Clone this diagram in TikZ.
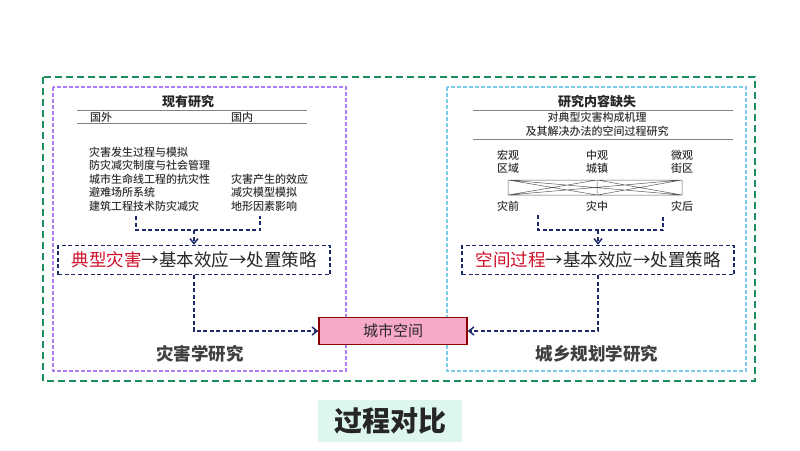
\documentclass[tikz,border=0pt]{standalone}
\usepackage{fontspec}
\setmainfont{Noto Sans CJK SC}
\newfontfamily\mfont{Noto Sans CJK SC Medium}
\usetikzlibrary{arrows.meta}
\definecolor{navy}{HTML}{1F2A6B}
\definecolor{grn}{HTML}{1E8F5A}
\definecolor{purp}{HTML}{B07CF5}
\definecolor{lblue}{HTML}{7CCBEE}
\definecolor{hred}{HTML}{D0102A}
\definecolor{pinkf}{HTML}{F8A8C8}
\definecolor{tbg}{HTML}{DDF7F0}
\begin{document}
\begin{tikzpicture}[x=1pt,y=-1pt,
  conn/.style={navy,line width=1.5pt,dash pattern=on 4pt off 2.5pt},
  arr/.style={conn,-{Straight Barb[length=5pt,width=8pt,line width=1.5pt]}},
  flow/.style={draw=navy,line width=1.5pt,dash pattern=on 4pt off 2.5pt,minimum width=272pt,minimum height=29pt,font=\fontsize{17.5}{17.5}\selectfont,text=black!85},
  small/.style={font=\mfont\fontsize{11}{13.4}\selectfont,text=black!80,inner sep=0pt},
  head/.style={font=\fontsize{13}{13}\selectfont\bfseries,text=black!85,inner sep=0pt},
  foot/.style={font=\fontsize{17.5}{17.5}\selectfont\bfseries,text=black!75,inner sep=0pt},
  rule/.style={gray,line width=0.9pt}]
\useasboundingbox (0,0) rectangle (800,450);
\fill[white] (0,0) rectangle (800,450);
\draw[grn,line width=1.8pt,dash pattern=on 7pt off 4pt] (43,77) rectangle (755,381);
\draw[purp,line width=1.4pt,dash pattern=on 4pt off 2pt] (53,87) rectangle (346,371);
\draw[lblue,line width=1.4pt,dash pattern=on 4pt off 2pt] (447,87) rectangle (746,371);
% left
\node[head] (lh) at (188,102) {现有研究};
\draw[rule] (77,110) -- (307,110);
\draw[rule] (77,123) -- (307,123);
\node[small,anchor=west] (gw) at (90,117) {国外};
\node[small,anchor=west] (gn) at (231,117) {国内};
\node[small,anchor=north west,align=left] (ll) at (89,147) {灾害发生过程与模拟\\防灾减灾制度与社会管理\\城市生命线工程的抗灾性\\避难场所系统\\建筑工程技术防灾减灾};
\node[small,anchor=north west,align=left] (lr) at (231,174) {灾害产生的效应\\减灾模型模拟\\地形因素影响};
\coordinate (la) at (136,216); \coordinate (lb) at (260,216);
\node[flow] (lf) at (194,260) {\textcolor{hred}{典型灾害}→基本效应→处置策略};
\draw[conn] (la) -- (136,230) -- (260,230) -- (lb);
\draw[arr] (194,230) -- (lf.north);
\node[foot] (lt) at (200,354) {灾害学研究};
% center
\node[draw=red!55!black,line width=1.5pt,fill=pinkf,minimum width=148pt,minimum height=27pt,font=\fontsize{15}{15}\selectfont,text=black!85] (city) at (393,331) {城市空间};
\draw[arr] (lf.south) |- (city.west);
% right
\node[head] (rh) at (597,102) {研究内容缺失};
\draw[rule] (473,110) -- (733,110);
\node[small,align=center] (rt) at (597,124.5) {对典型灾害构成机理\\及其解决办法的空间过程研究};
\draw[rule] (473,139) -- (733,139);
\node[small,align=center] (m1) at (508,162) {宏观\\区域};
\node[small,align=center] (m2) at (597,162) {中观\\城镇};
\node[small,align=center] (m3) at (682,162) {微观\\街区};
\node[small] (t1) at (508,206) {灾前};
\node[small] (t2) at (597,206) {灾中};
\node[small] (t3) at (682,206) {灾后};
\draw[gray!70!black,line width=0.5pt] (508,180) rectangle (682,195) (597,180) -- (597,195)
  (508,180) -- (597,195) (508,180) -- (682,195) (597,180) -- (508,195) (597,180) -- (682,195)
  (682,180) -- (508,195) (682,180) -- (597,195);
\coordinate (ra) at (538,215); \coordinate (rb) at (663,215);
\node[flow] (rf) at (598,260) {\textcolor{hred}{空间过程}→基本效应→处置策略};
\draw[conn] (ra) -- (538,230) -- (663,230) -- (rb);
\draw[arr] (598,230) -- (rf.north);
\draw[arr] (rf.south) |- (city.east);
\node[foot] (rtt) at (597,354) {城乡规划学研究};
% title
\node[fill=tbg,minimum width=144pt,minimum height=42pt,font=\fontsize{28}{28}\selectfont\bfseries,text=black!85] (ti) at (390,421) {过程对比};
\end{tikzpicture}
\end{document}
